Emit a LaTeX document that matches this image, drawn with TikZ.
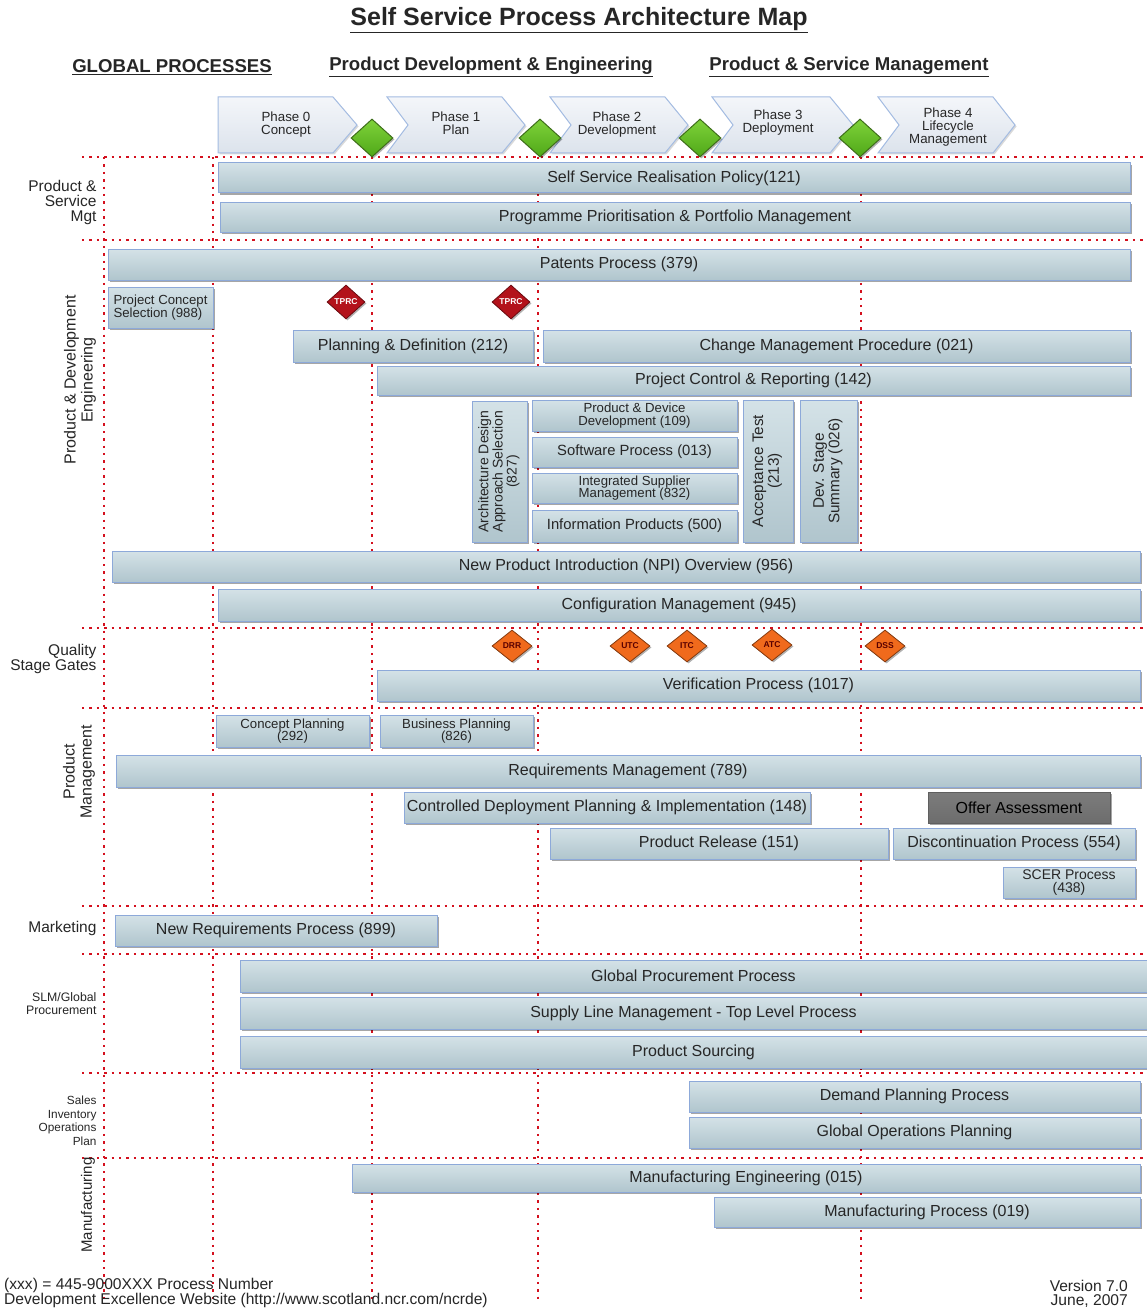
\documentclass[tikz,border=0pt]{standalone}
\usepackage{fontspec}
\setmainfont{Liberation Sans}
\usetikzlibrary{shapes.geometric,shadows}

\definecolor{boxtop}{HTML}{D4E2E7}
\definecolor{boxbot}{HTML}{B0C5CD}
\definecolor{boxline}{HTML}{8DA9D9}
\definecolor{gridred}{HTML}{D4101E}
\definecolor{phasetop}{HTML}{F4F6FA}
\definecolor{phasebot}{HTML}{DCE3EC}
\definecolor{phaseline}{HTML}{A4BCE2}
\definecolor{gatetop}{HTML}{7FD23A}
\definecolor{gatebot}{HTML}{4FA818}
\definecolor{gateline}{HTML}{3E6E1A}
\definecolor{tprc}{HTML}{B3121B}
\definecolor{qgate}{HTML}{F06A1C}
\definecolor{offer}{HTML}{888888}

\tikzset{
  sepline/.style={gridred, line width=2.4pt, dash pattern=on 2.4pt off 5pt},
  proc/.style={draw=boxline, line width=1pt, top color=boxtop, bottom color=boxbot,
    drop shadow={shadow xshift=2pt, shadow yshift=-2pt, fill=black, opacity=.35},
    inner sep=0pt, align=center, text=black!85,
    font=\fontsize{16}{17}\selectfont},
  small/.style={font=\fontsize{13.2}{12.5}\selectfont},
  mid/.style={font=\fontsize{14.8}{16}\selectfont},
  phase/.style={draw=phaseline, line width=1pt, top color=phasetop, bottom color=phasebot,
    drop shadow={shadow xshift=1.5pt, shadow yshift=-1.5pt, fill=black, opacity=.15}},
  phasetext/.style={align=center, font=\fontsize{13.3}{13}\selectfont, text=black!85},
  gate/.style={diamond, draw=gateline, line width=1pt, top color=gatetop, bottom color=gatebot,
    minimum width=42pt, minimum height=38pt, inner sep=0pt,
    drop shadow={shadow xshift=1.5pt, shadow yshift=-1.5pt, fill=black, opacity=.3}},
  review/.style={diamond, draw=tprc!60!black, line width=.8pt, fill=tprc,
    minimum width=38pt, minimum height=34pt, inner sep=0pt, text=white,
    font=\bfseries\fontsize{8.5}{8.5}\selectfont,
    drop shadow={shadow xshift=1.5pt, shadow yshift=-1.5pt, fill=black, opacity=.3}},
  qgatestyle/.style={diamond, draw=qgate!55!black, line width=.8pt, fill=qgate,
    minimum width=40pt, minimum height=32pt, inner sep=0pt, text=red!35!black,
    font=\bfseries\fontsize{8.5}{8.5}\selectfont,
    drop shadow={shadow xshift=1.5pt, shadow yshift=-1.5pt, fill=black, opacity=.3}},
  lane/.style={anchor=east, align=right, text=black!85, font=\fontsize{15.5}{15}\selectfont},
  lanerot/.style={rotate=90, align=center, text=black!85, font=\fontsize{16}{17}\selectfont},
  head/.style={font=\bfseries\fontsize{18.6}{20}\selectfont, text=black!85},
  foot/.style={text=black!85, inner sep=0pt, font=\fontsize{15.6}{14.6}\selectfont},
}

% \procbox[options]{name}{x1}{y1}{x2}{y2}{text}
\newcommand\procbox[7][]{%
  \pgfmathsetmacro\pbW{#5-#3}%
  \pgfmathsetmacro\pbH{#6-#4}%
  \pgfmathsetmacro\pbX{(#3+#5)/2}%
  \pgfmathsetmacro\pbY{(#4+#6)/2}%
  \node[proc,minimum width=\pbW pt,minimum height=\pbH pt,#1] (#2) at (\pbX,\pbY) {#7};}

\newcommand\ulined[1]{\underline{#1}}

\begin{document}
\begin{tikzpicture}[x=1pt,y=-1pt]
\path[fill=white] (0,0) rectangle (1147,1308);
\useasboundingbox (0,0) rectangle (1147,1308);

% titles
\node[font=\bfseries\fontsize{25}{27}\selectfont, text=black!85] (title) at (579,20) {\ulined{Self Service Process Architecture Map}};
\node[head] (hglobal) at (172,67) {\ulined{GLOBAL PROCESSES}};
\node[head] (hpde) at (491,67) {\ulined{Product Development \& Engineering}};
\node[head] (hpsm) at (849,67) {\ulined{Product \& Service Management}};

% phase chevrons
\path[phase] (218,97) -- (333,97) -- (357,125) -- (333,153) -- (218,153) -- cycle;
\path[phase] (387,97) -- (502,97) -- (525,125) -- (502,153) -- (387,153) -- (408,125) -- cycle;
\path[phase] (550,97) -- (665,97) -- (688,125) -- (665,153) -- (550,153) -- (571,125) -- cycle;
\path[phase] (712,97) -- (830,97) -- (853,125) -- (830,153) -- (712,153) -- (733,125) -- cycle;
\path[phase] (878,97) -- (993,97) -- (1015,125) -- (993,153) -- (878,153) -- (899,125) -- cycle;
\node[phasetext] (ph0) at (286,125) {Phase 0\\Concept};
\node[phasetext] (ph1) at (456,123) {Phase 1\\Plan};
\node[phasetext] (ph2) at (617,125) {Phase 2\\Development};
\node[phasetext] (ph3) at (778,123) {Phase 3\\Deployment};
\node[phasetext] (ph4) at (948,127) {Phase 4\\Lifecycle\\Management};

% dotted lane and phase separators
\foreach \yy in {157,240,628,708,906,954,1073,1158}
  \draw[sepline] (82,\yy) -- (1147,\yy);
\foreach \xx in {104,213,372,538,861}
  \draw[sepline] (\xx,157) -- (\xx,1302);

% phase gates
\node[gate] (g1) at (372,138) {};
\node[gate] (g2) at (540,138) {};
\node[gate] (g3) at (700,138) {};
\node[gate] (g4) at (860,138) {};

% lane labels
\node[lane] (lpsm) at (100,202) {Product \&\\Service\\Mgt};
\node[lanerot] (lpde) at (80,380) {Product \& Development\\Engineering};
\node[lane] (lqsg) at (100,659) {Quality\\Stage Gates};
\node[lanerot] (lpm) at (79,772) {Product\\Management};
\node[lane] (lmkt) at (100,928) {Marketing};
\node[lane, font=\fontsize{12.3}{13}\selectfont] (lslm) at (100,1004) {SLM/Global\\Procurement};
\node[lane, font=\fontsize{11.8}{13.5}\selectfont] (lsiop) at (100,1121) {Sales\\Inventory\\Operations\\Plan};
\node[lanerot, font=\fontsize{15}{16}\selectfont] (lmfg) at (88,1205) {Manufacturing};

% Product & Service Mgt
\procbox{p121}{218}{163}{1130}{193}{Self Service Realisation Policy(121)}
\procbox{pppm}{220}{202}{1130}{232}{Programme Prioritisation \& Portfolio Management}

% Product & Development Engineering
\procbox{p379}{108}{249}{1130}{280}{Patents Process (379)}
\procbox[small, align=left]{p988}{108}{287}{213}{328}{Project Concept\\Selection (988)}
\node[review] (tprc1) at (346,302) {TPRC};
\node[review] (tprc2) at (511,302) {TPRC};
\procbox{p212}{293}{330}{533}{362}{Planning \& Definition (212)}
\procbox{p021}{543}{330}{1130}{362}{Change Management Procedure (021)}
\procbox{p142}{377}{366}{1130}{395}{Project Control \& Reporting (142)}
\procbox{p827}{472}{401}{527}{542}{\rotatebox{90}{\fontsize{14}{13.5}\selectfont\begin{tabular}{@{}c@{}}Architecture Design\\Approach Selection\\(827)\end{tabular}}}
\procbox[small]{p109}{532}{400}{737}{431}{Product \& Device\\Development (109)}
\procbox[mid]{p013}{532}{437}{737}{467}{Software Process (013)}
\procbox[small]{p832}{532}{473}{737}{503}{Integrated Supplier\\Management (832)}
\procbox[mid]{p500}{532}{510}{737}{542}{Information Products (500)}
\procbox{p213}{743}{400}{793}{542}{\rotatebox{90}{\fontsize{15.3}{15}\selectfont\begin{tabular}{@{}c@{}}Acceptance Test\\(213)\end{tabular}}}
\procbox{p026}{800}{400}{857}{542}{\rotatebox{90}{\fontsize{15.3}{15}\selectfont\begin{tabular}{@{}c@{}}Dev. Stage\\Summary (026)\end{tabular}}}
\procbox{p956}{112}{551}{1140}{582}{New Product Introduction (NPI) Overview (956)}
\procbox{p945}{218}{589}{1140}{621}{Configuration Management (945)}

% Quality stage gates
\node[qgatestyle] (drr) at (512,646) {DRR};
\node[qgatestyle] (utc) at (630,646) {UTC};
\node[qgatestyle] (itc) at (687,646) {ITC};
\node[qgatestyle] (atc) at (772,645) {ATC};
\node[qgatestyle] (dss) at (885,646) {DSS};
\procbox{p1017}{377}{670}{1140}{701}{Verification Process (1017)}

% Product Management
\procbox[small]{p292}{216}{715}{369}{747}{Concept Planning\\(292)}
\procbox[small]{p826}{380}{715}{533}{747}{Business Planning\\(826)}
\procbox{p789}{116}{755}{1140}{787}{Requirements Management (789)}
\procbox{p148}{404}{792}{810}{823}{Controlled Deployment Planning \& Implementation (148)}
\procbox[top color=offer!110!white, bottom color=offer!80!black, draw=offer!70!black, text=black]{poffer}{928}{792}{1110}{823}{Offer Assessment}
\procbox{p151}{550}{828}{888}{859}{Product Release (151)}
\procbox{p554}{893}{828}{1135}{859}{Discontinuation Process (554)}
\procbox[font=\fontsize{14}{12.5}\selectfont]{p438}{1003}{867}{1135}{898}{SCER Process\\(438)}

% Marketing
\procbox{p899}{115}{915}{437}{946}{New Requirements Process (899)}

% SLM / Global Procurement
\procbox{pgpp}{240}{960}{1147}{992}{Global Procurement Process}
\procbox{pslm}{240}{997}{1147}{1029}{Supply Line Management - Top Level Process}
\procbox{psrc}{240}{1036}{1147}{1068}{Product Sourcing}

% Sales Inventory Operations Plan
\procbox{pdpp}{689}{1081}{1140}{1112}{Demand Planning Process}
\procbox{pgop}{689}{1117}{1140}{1148}{Global Operations Planning}

% Manufacturing
\procbox{p015}{352}{1164}{1140}{1192}{Manufacturing Engineering (015)}
\procbox{p019}{714}{1197}{1140}{1227}{Manufacturing Process (019)}

% footer
\node[foot, anchor=south west, align=left] (fnote) at (4,1308) {(xxx) = 445-9000XXX Process Number\\Development Excellence Website (http://www.scotland.ncr.com/ncrde)};
\node[foot, anchor=south east, align=right] (fver) at (1128,1308) {Version 7.0\\June, 2007};
\end{tikzpicture}
\end{document}
